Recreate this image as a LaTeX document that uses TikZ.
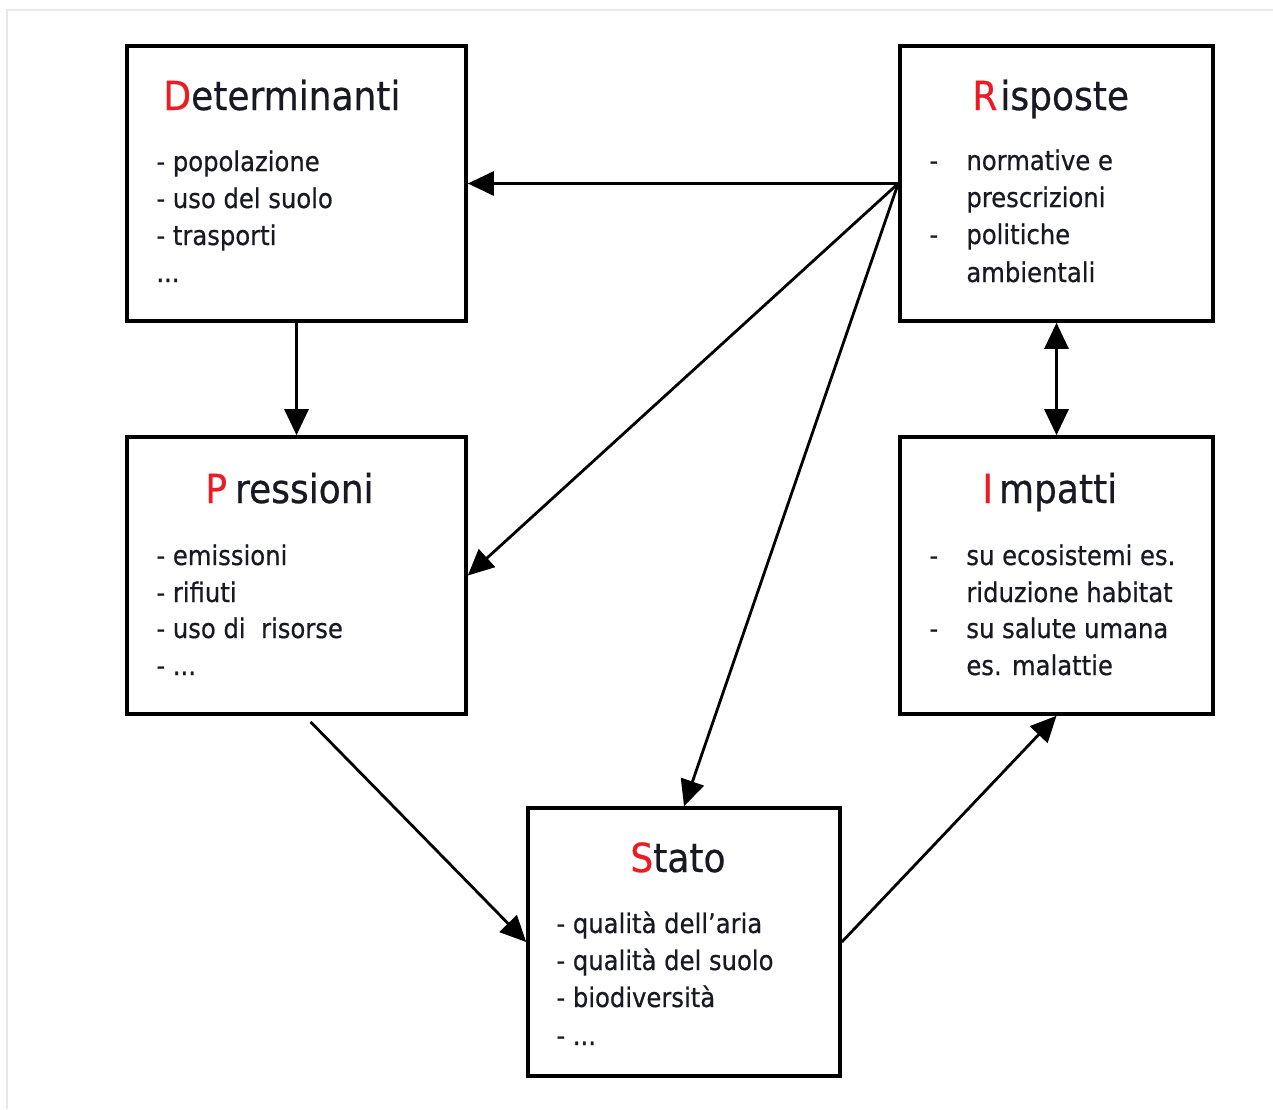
\documentclass[tikz,border=0pt]{standalone}
\usepackage{fontspec}
\setmainfont{DejaVu Sans Condensed}[FakeBold=0.6]
\usetikzlibrary{arrows.meta}
\definecolor{hl}{RGB}{236,28,36}
\definecolor{txt}{RGB}{25,25,35}
\definecolor{frame}{RGB}{232,232,232}
\tikzset{
  box/.style={draw, line width=1.8pt, inner sep=0pt},
  ttl/.style={anchor=base west, inner sep=0pt, text=txt, font=\fontsize{20}{24}\selectfont},
  itm/.style={anchor=base west, inner sep=0pt, text=txt, font=\fontsize{13.5}{16}\selectfont},
  arr/.style={line width=1.4pt, -{Triangle[length=13pt,width=12pt]}},
  darr/.style={line width=1.4pt, {Triangle[length=13pt,width=12pt]}-{Triangle[length=13pt,width=12pt]}}
}
\begin{document}
\begin{tikzpicture}[x=0.5pt,y=-0.5pt]
\useasboundingbox (0,0) rectangle (1273,1109);
\fill[white] (0,0) rectangle (1273,1109);
\draw[frame, line width=1pt] (1273,10) -- (7,10) -- (7,1109);

% boxes
\node[box, minimum width=169.5pt, minimum height=137.5pt] (D) at (296.5,183.5) {};
\node[box, minimum width=156.5pt, minimum height=137.5pt] (R) at (1056.5,183.5) {};
\node[box, minimum width=169.5pt, minimum height=138.5pt] (P) at (296.5,575.5) {};
\node[box, minimum width=156.5pt, minimum height=138.5pt] (I) at (1056.5,575.5) {};
\node[box, minimum width=156pt, minimum height=134pt] (S) at (684,942) {};

% Determinanti
\node[ttl] (Dt) at (163,110) {\textcolor{hl}{D}eterminanti};
\node[itm] (D1) at (156,171) {- popolazione};
\node[itm] (D2) at (156,208) {- uso del suolo};
\node[itm] (D3) at (156,245) {- trasporti};
\node[itm] (D4) at (156,282) {...};

% Risposte
\node[ttl] (Rt) at (972,110) {\textcolor{hl}{R}\kern1.5pt isposte};
\node[itm] (Rd1) at (929,170) {-};
\node[itm] (R1) at (966,170) {normative e};
\node[itm] (R2) at (966,207) {prescrizioni};
\node[itm] (Rd2) at (929,244) {-};
\node[itm] (R3) at (966,244) {politiche};
\node[itm] (R4) at (966,282) {ambientali};

% Pressioni
\node[ttl] (Pt) at (205,503) {\textcolor{hl}{P}\kern4pt ressioni};
\node[itm] (P1) at (156,565) {- emissioni};
\node[itm] (P2) at (156,602) {- rifiuti};
\node[itm] (P3) at (156,638) {- uso di\ \ risorse};
\node[itm] (P4) at (156,675) {- ...};

% Impatti
\node[ttl] (It) at (982,503) {\textcolor{hl}{I}\kern3pt mpatti};
\node[itm] (Id1) at (929,565) {-};
\node[itm] (I1) at (966,565) {su ecosistemi es.};
\node[itm] (I2) at (966,602) {riduzione habitat};
\node[itm] (Id2) at (929,638) {-};
\node[itm] (I3) at (966,638) {su salute umana};
\node[itm] (I4) at (966,675) {es. malattie};

% Stato
\node[ttl] (St) at (630,872) {\textcolor{hl}{S}tato};
\node[itm] (S1) at (556,933) {- qualità dell’aria};
\node[itm] (S2) at (556,970) {- qualità del suolo};
\node[itm] (S3) at (556,1007) {- biodiversità};
\node[itm] (S4) at (556,1045) {- ...};

% connectors
\draw[arr] (R.west) -- (D.east);
\draw[arr] (R.west) -- (P.east);
\draw[arr] (R.west) -- (S.north);
\draw[arr] (D.south) -- (P.north);
\draw[darr] (R.south) -- (I.north);
\draw[arr] ([xshift=7pt,yshift=-3pt]P.south) -- (S.west);
\draw[arr] (S.east) -- (I.south);
\end{tikzpicture}
\end{document}
